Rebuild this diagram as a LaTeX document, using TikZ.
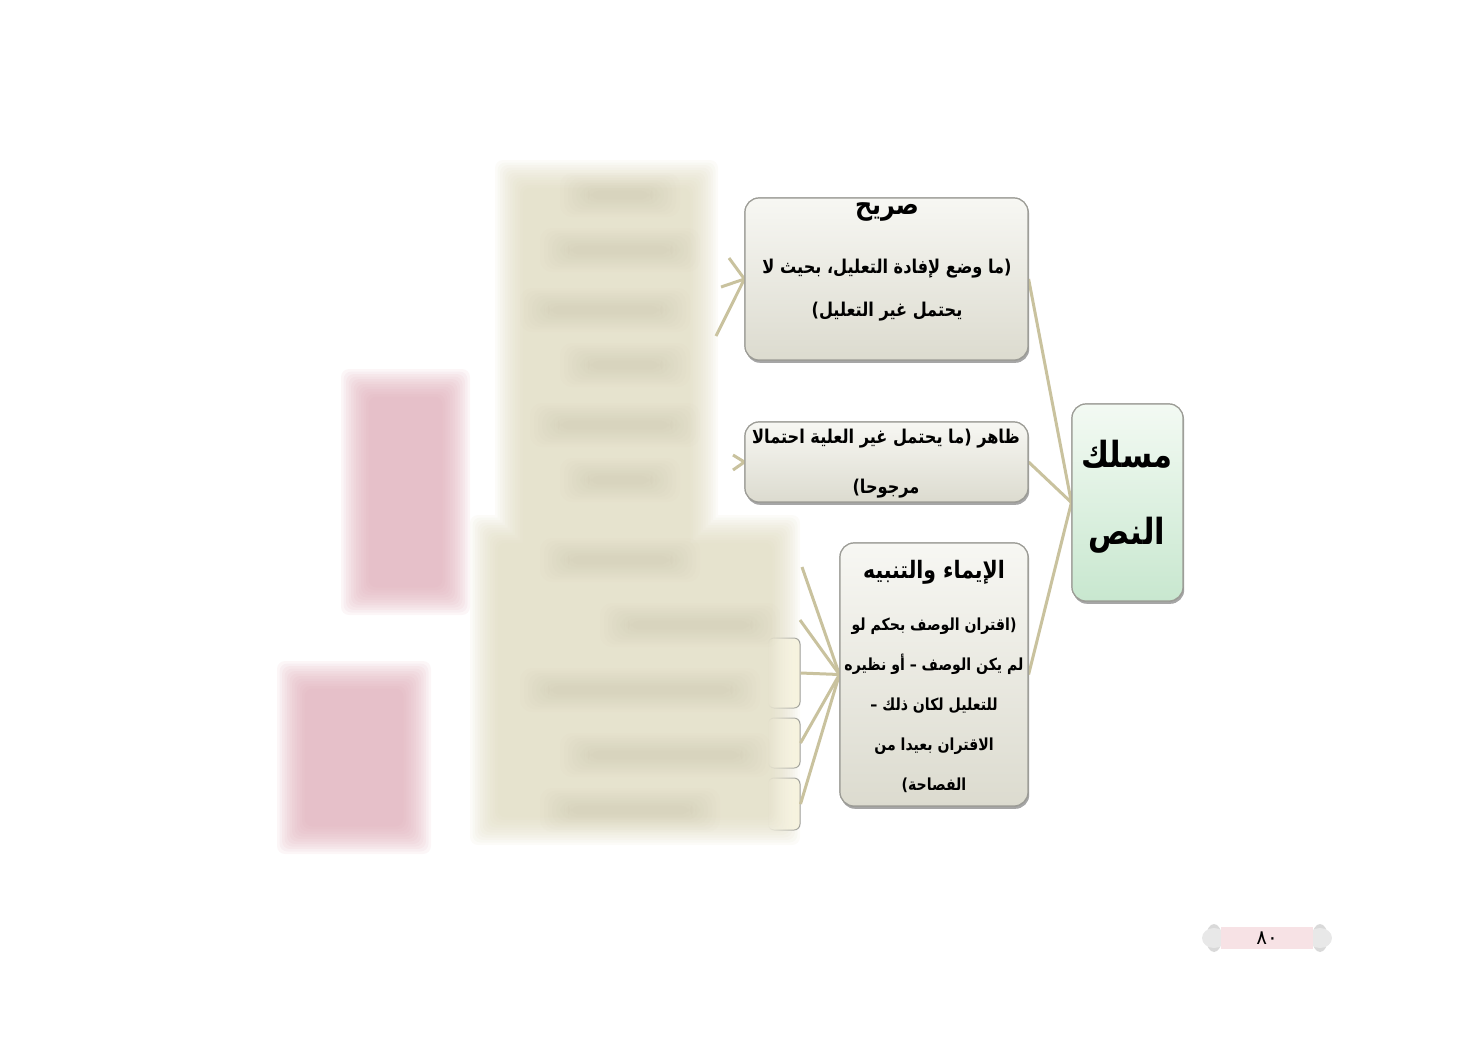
\documentclass[tikz,border=0pt]{standalone}
\usepackage{fontspec}
\newfontfamily\arabicfont[Script=Arabic]{DejaVu Sans}
\newfontfamily\parfont{DejaVu Sans}
\TeXXeTstate=1
\usetikzlibrary{positioning,shadows,fadings}

\definecolor{boxtop}{HTML}{F7F7F3}
\definecolor{boxbot}{HTML}{DCDBCF}
\definecolor{boxline}{HTML}{9C9C96}
\definecolor{roottop}{HTML}{F3FAF3}
\definecolor{rootbot}{HTML}{C8E7CF}
\definecolor{kidfill}{HTML}{F6F2DC}
\definecolor{linkcol}{HTML}{C9C29E}
\definecolor{blurbeige}{HTML}{DDD8BC}
\definecolor{blurdark}{HTML}{B8B296}
\definecolor{blurpink}{HTML}{DDA8B4}
\definecolor{pagepink}{HTML}{F7E2E5}

\newcommand{\ar}[1]{\scalebox{0.85}[1]{\beginR #1\endR}}
% brackets as they stand on the page (right side / left side)
\newcommand{\rpar}{{\parfont\bfseries)}}
\newcommand{\lpar}{{\parfont\bfseries(}}

\tikzfading[name=kidfade, left color=transparent!100, right color=transparent!0]

\tikzset{
  leaf/.style={draw=boxline, line width=0.6pt, rounded corners=7pt,
    top color=boxtop, bottom color=boxbot,
    drop shadow={shadow xshift=0.6pt, shadow yshift=-1.4pt, opacity=0.45, fill=gray}},
  rootbox/.style={leaf, top color=roottop, bottom color=rootbot},
  kid/.style={draw=boxline, line width=0.5pt, rounded corners=3pt, fill=kidfill, path fading=kidfade},
  link/.style={draw=linkcol, line width=1.5pt},
  txt/.style={font=\arabicfont\bfseries\fontsize{9.5}{21.5}\selectfont, align=center, inner sep=0pt},
  headtxt/.style={font=\arabicfont\bfseries\fontsize{14}{20}\selectfont, inner sep=0pt},
  roottxt/.style={font=\arabicfont\bfseries\fontsize{18}{38.5}\selectfont, align=center, inner sep=0pt},
}

\begin{document}
\begin{tikzpicture}[x=0.5pt,y=-0.5pt]
\useasboundingbox (0,0) rectangle (1477,1040);

% main boxes (placed first so the links can use them)
\node[leaf, minimum width=141.5pt, minimum height=81pt] (sarih) at (886.5,279) {};
\node[leaf, minimum width=141.5pt, minimum height=40pt] (zahir) at (886.5,462) {};
\node[leaf, minimum width=94pt, minimum height=131.5pt] (imaa) at (934,674.5) {};
\node[rootbox, minimum width=55.5pt, minimum height=98.5pt] (root) at (1127.5,502.5) {};

% links going left into the hidden part
\coordinate (s1) at (729,258);
\coordinate (s2) at (721,287);
\coordinate (s3) at (716,336);
\coordinate (z1) at (733,455);
\coordinate (z2) at (733,470);
\foreach \c in {s1,s2,s3} \draw[link] (sarih.west) -- (\c);
\foreach \c in {z1,z2} \draw[link] (zahir.west) -- (\c);

% blurred parts
\foreach \k in {0,...,11}{
  \fill[blurbeige, opacity=0.1, rounded corners=4pt]
    (495+2.5*\k,160+2.5*\k) rectangle (718-2.5*\k,700-2.5*\k)
    (470+2.5*\k,515+2.5*\k) rectangle (800-2.5*\k,845-2.5*\k);
  \fill[blurpink, opacity=0.1, rounded corners=4pt]
    (341+2.5*\k,369+2.5*\k) rectangle (470-2.5*\k,615-2.5*\k);
  \fill[blurpink, opacity=0.1, rounded corners=4pt]
    (277+2.5*\k,661+2.5*\k) rectangle (431-2.5*\k,854-2.5*\k);
}
% faint smudges of hidden text
\foreach \xa/\xb/\y in {560/680/195, 540/700/250, 520/690/310, 560/690/365, 530/700/425,
                       560/680/480, 540/700/560, 600/780/625, 520/760/690, 560/770/755, 540/720/810}{
  \foreach \k in {0,...,7}
    \fill[blurdark, opacity=0.03, rounded corners=6pt]
      (\xa+4*\k,\y-22+2.5*\k) rectangle (\xb-4*\k,\y+22-2.5*\k);
}

% boxes that show only their right edge
\node[kid, minimum width=16pt, minimum height=35pt] (kidA) at (784,673) {};
\node[kid, minimum width=16pt, minimum height=25pt] (kidB) at (784,743) {};
\node[kid, minimum width=16pt, minimum height=26pt] (kidC) at (784,804) {};

% fan from the third box
\coordinate (i1) at (802,567);
\coordinate (i2) at (800,620);
\foreach \c in {i1,i2,kidA.east,kidB.east,kidC.east} \draw[link] (imaa.west) -- (\c);

% links from the root
\foreach \b in {sarih,zahir,imaa} \draw[link] (root.west) -- (\b.east);

% redraw boxes over the links
\node[leaf, minimum width=141.5pt, minimum height=81pt] at (sarih) {};
\node[leaf, minimum width=141.5pt, minimum height=40pt] at (zahir) {};
\node[leaf, minimum width=94pt, minimum height=131.5pt] at (imaa) {};
\node[rootbox, minimum width=55.5pt, minimum height=98.5pt] at (root) {};

% texts
\node[headtxt] (sarihH) at (887,212) {\ar{صريح}};
\node[txt] (sarihT) at (887,290) {\ar{\rpar ما وضع لإفادة التعليل، بحيث لا}\\\ar{يحتمل غير التعليل\lpar}};
\node[txt] (zahirT) at (886,464) {\ar{ظاهر \rpar ما يحتمل غير العلية احتمالا}\\[3.5pt]\ar{مرجوحا\lpar}};
\node[headtxt, font=\arabicfont\bfseries\fontsize{12}{20}\selectfont] (imaaH) at (934,572) {\ar{الإيماء والتنبيه}};
\node[txt, font=\arabicfont\bfseries\fontsize{8.3}{20}\selectfont] (imaaT) at (934,705)
  {\ar{\rpar اقتران الوصف بحكم لو}\\\ar{لم يكن الوصف – أو نظيره}\\\ar{للتعليل لكان ذلك –}\\\ar{الاقتران بعيدا من}\\\ar{الفصاحة\lpar}};
\node[roottxt] (rootT) at (1127,497) {\ar{مسلك}\\\ar{النص}};

% page number
\foreach \x in {1214,1320}{
  \fill[gray!30] (\x,938) ellipse (4pt and 7pt);
  \fill[gray!18] (\x,938) ellipse (6pt and 5pt);
}
\node[fill=pagepink, minimum width=46pt, minimum height=11pt, inner sep=0pt,
  font=\arabicfont\fontsize{10}{12}\selectfont] (pagenum) at (1267,938) {٨٠};
\end{tikzpicture}
\end{document}
